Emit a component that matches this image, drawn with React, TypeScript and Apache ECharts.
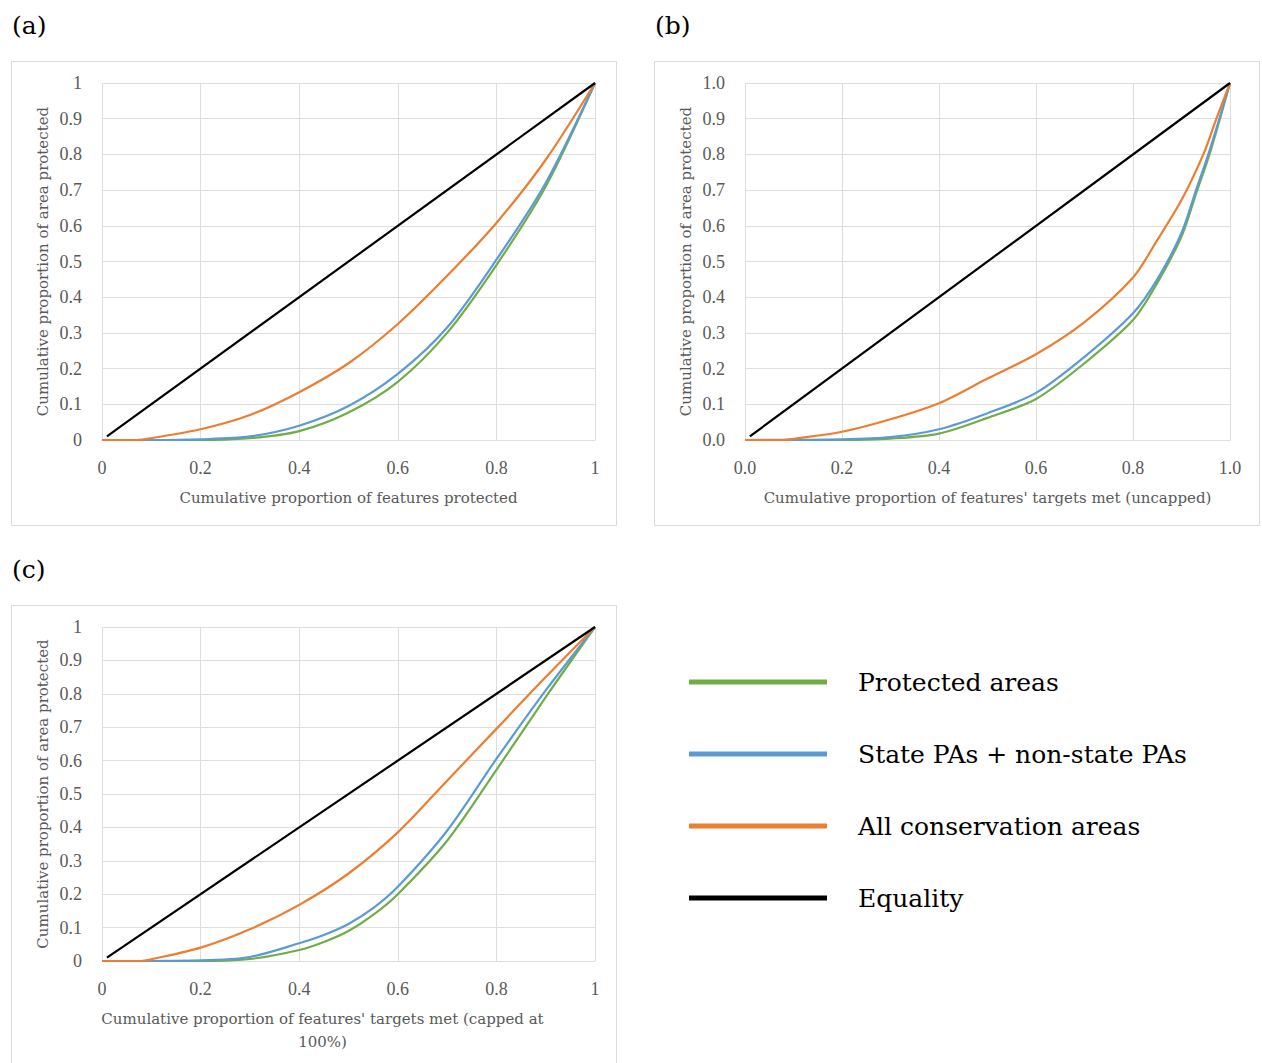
import React, { useEffect, useRef } from "react";
import * as echarts from "echarts";

// ---------- data ----------
const seriesNames = ["Protected areas", "State PAs + non-state PAs", "All conservation areas", "Equality"];
const seriesColors = ["#70AD47", "#5B9BD5", "#ED7D31", "#000000"];

const equality: number[][] = [[0.01, 0.01], [1, 1]];

// (a) features protected
const aGreen: number[][] = [[0, 0], [0.2, 0], [0.3, 0.005], [0.4, 0.025], [0.5, 0.077], [0.6, 0.163], [0.7, 0.3], [0.8, 0.49], [0.9, 0.71], [1, 1]];
const aBlue: number[][] = [[0, 0], [0.1, 0], [0.2, 0.002], [0.3, 0.01], [0.4, 0.04], [0.5, 0.095], [0.6, 0.185], [0.7, 0.315], [0.8, 0.505], [0.9, 0.72], [1, 1]];
const aOrange: number[][] = [[0, 0], [0.07, 0], [0.1, 0.005], [0.2, 0.03], [0.3, 0.07], [0.4, 0.134], [0.5, 0.215], [0.6, 0.325], [0.7, 0.46], [0.8, 0.608], [0.9, 0.785], [1, 1]];

// (b) targets met (uncapped)
const bGreen: number[][] = [[0, 0], [0.2, 0], [0.3, 0.004], [0.4, 0.018], [0.5, 0.062], [0.6, 0.115], [0.7, 0.215], [0.8, 0.336], [0.85, 0.44], [0.9, 0.57], [0.93, 0.69], [0.96, 0.81], [1, 1]];
const bBlue: number[][] = [[0, 0], [0.2, 0.002], [0.3, 0.008], [0.4, 0.03], [0.5, 0.075], [0.6, 0.132], [0.7, 0.233], [0.8, 0.355], [0.85, 0.45], [0.9, 0.58], [0.93, 0.7], [0.96, 0.82], [1, 1]];
const bOrange: number[][] = [[0, 0], [0.08, 0], [0.1, 0.003], [0.2, 0.023], [0.3, 0.058], [0.4, 0.103], [0.5, 0.172], [0.6, 0.24], [0.7, 0.33], [0.8, 0.455], [0.85, 0.56], [0.9, 0.672], [0.945, 0.8], [0.972, 0.9], [1, 1]];

// (c) targets met (capped at 100%)
const cGreen: number[][] = [[0, 0], [0.2, 0], [0.3, 0.006], [0.4, 0.033], [0.45, 0.057], [0.5, 0.09], [0.55, 0.138], [0.6, 0.2], [0.7, 0.36], [0.8, 0.572], [0.9, 0.79], [1, 1]];
const cBlue: number[][] = [[0, 0], [0.2, 0.002], [0.3, 0.012], [0.4, 0.053], [0.45, 0.078], [0.5, 0.111], [0.55, 0.158], [0.6, 0.222], [0.7, 0.39], [0.8, 0.605], [0.9, 0.81], [1, 1]];
const cOrange: number[][] = [[0, 0], [0.08, 0], [0.1, 0.005], [0.2, 0.04], [0.3, 0.095], [0.4, 0.168], [0.5, 0.262], [0.6, 0.385], [0.7, 0.54], [0.8, 0.695], [0.9, 0.85], [1, 1]];

const panelLabels = ["(a)", "(b)", "(c)"];
const xTitles = [
  "Cumulative proportion of features protected",
  "Cumulative proportion of features' targets met (uncapped)",
  "Cumulative proportion of features' targets met (capped at\n100%)",
];
const yTitle = "Cumulative proportion of area protected";

const FONT = "'Liberation Serif', 'Times New Roman', serif";
const WFONT = "'DejaVu Serif', serif";
const GRAY = "#595959";
const GRID = "#DEDEDE";

export default function App() {
  const ref = useRef<HTMLDivElement>(null);

  useEffect(() => {
    if (!ref.current) return;
    const chart = echarts.init(ref.current, undefined, { renderer: "svg" });

    const grids = [
      { left: 102, top: 83, width: 493, height: 357 },
      { left: 745, top: 83, width: 485, height: 357 },
      { left: 102, top: 627, width: 493, height: 334 },
    ];
    const fixed = [false, true, false];
    const fmt = (i: number) => (v: number) => {
      const r = Math.round(v * 10) / 10;
      if (fixed[i]) return r.toFixed(1);
      return String(r);
    };

    const xAxes = grids.map((_, i) => ({
      type: "value",
      gridIndex: i,
      min: 0,
      max: 1,
      interval: 0.2,
      name: xTitles[i],
      nameLocation: "middle",
      nameGap: 46,
      nameTextStyle: {
        fontFamily: WFONT,
        fontSize: 15,
        color: GRAY,
        lineHeight: 23,
        verticalAlign: "top",
        padding: i === 2 ? [0, 52, 0, 0] : 0,
      },
      axisLine: { show: true, lineStyle: { color: GRID, width: 1 } },
      axisTick: { show: false },
      axisLabel: { color: GRAY, fontFamily: FONT, fontSize: 18, margin: 19, formatter: fmt(i) },
      splitLine: { show: true, lineStyle: { color: GRID, width: 1 } },
    }));
    const yAxes = grids.map((_, i) => ({
      type: "value",
      gridIndex: i,
      min: 0,
      max: 1,
      interval: 0.1,
      name: yTitle,
      nameLocation: "middle",
      nameGap: 52,
      nameTextStyle: { fontFamily: WFONT, fontSize: 15, color: GRAY },
      axisLine: { show: false },
      axisTick: { show: false },
      axisLabel: { color: GRAY, fontFamily: FONT, fontSize: 18, margin: 20, formatter: fmt(i) },
      splitLine: { show: true, lineStyle: { color: GRID, width: 1 } },
    }));

    const panelData = [
      [aGreen, aBlue, aOrange, equality],
      [bGreen, bBlue, bOrange, equality],
      [cGreen, cBlue, cOrange, equality],
    ];
    const series: any[] = [];
    panelData.forEach((set, i) => {
      set.forEach((d, k) => {
        series.push({
          type: "line",
          name: seriesNames[k],
          xAxisIndex: i,
          yAxisIndex: i,
          data: d,
          smooth: k === 3 ? false : 0.3,
          showSymbol: false,
          symbol: "none",
          color: seriesColors[k],
          lineStyle: { color: seriesColors[k], width: 2.2 },
          itemStyle: { color: seriesColors[k] },
          z: 2 + k,
        });
      });
    });

    const legendCenters = [681, 753, 825, 897];
    const legends = seriesNames.map((n, k) => ({
      data: [n],
      left: 689,
      top: legendCenters[k] - 22,
      padding: 0,
      icon: "rect",
      itemWidth: 138,
      itemHeight: 5,
      selectedMode: false,
      textStyle: { fontFamily: WFONT, fontSize: 25, color: "#000", lineHeight: 32, padding: [14, 0, 0, 26] },
    }));

    const boxes = [
      { x: 11.5, y: 61.5, w: 605, h: 464 },
      { x: 654.5, y: 61.5, w: 605, h: 464 },
      { x: 11.5, y: 605.5, w: 605, h: 470 },
    ];
    const graphic: any[] = [];
    boxes.forEach((b) => {
      graphic.push({
        type: "rect",
        shape: { x: b.x, y: b.y, width: b.w, height: b.h },
        style: { fill: "none", stroke: "#D9D9D9", lineWidth: 1 },
        z: -1,
      });
    });
    const labelPos = [[12, 25], [655, 25], [12, 569]];
    panelLabels.forEach((t, i) => {
      graphic.push({
        type: "text",
        x: labelPos[i][0],
        y: labelPos[i][1],
        style: { text: t, fontFamily: WFONT, fontSize: 25, fill: "#000", verticalAlign: "middle", align: "left" },
      });
    });

    chart.setOption({
      animation: false,
      backgroundColor: "#fff",
      grid: grids.map((g) => ({ ...g, containLabel: false })),
      xAxis: xAxes,
      yAxis: yAxes,
      series,
      legend: legends,
      graphic,
    });

    return () => chart.dispose();
  }, []);

  return <div ref={ref} style={{ position: "fixed", left: 0, top: 0, width: 1262, height: 1063 }} />;
}
